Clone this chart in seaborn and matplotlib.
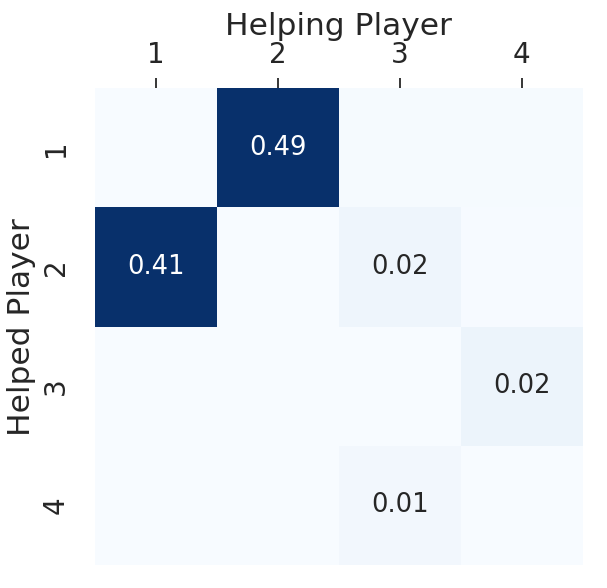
import numpy as np
import pandas as pd
import seaborn as sns
import matplotlib.pyplot as plt

# Helping matrix: rows = helped player, cols = helping player
players = ['1', '2', '3', '4']
row1 = [0.000, 0.49, 0.004, 0.004]
row2 = [0.41, 0.000, 0.020, 0.003]
row3 = [0.000, 0.000, 0.000, 0.024]
row4 = [0.000, 0.000, 0.012, 0.000]

sns.set_theme(style='white')

df = pd.DataFrame([row1, row2, row3, row4], index=players, columns=players)

# Hide annotations that would round to 0.00
labels = df.map(lambda v: f'{v:.2f}' if v >= 0.005 else '')

fig, ax = plt.subplots(figsize=(6.07, 5.88), dpi=100)
sns.heatmap(df, annot=labels, fmt='', cmap='Blues', vmin=0, vmax=0.41,
            cbar=False, annot_kws={'fontsize': 18.5}, ax=ax)

ax.xaxis.tick_top()
ax.xaxis.set_label_position('top')
ax.set_xlabel('Helping Player', fontsize=22.5, labelpad=4)
ax.set_ylabel('Helped Player', fontsize=22.5, labelpad=4)
ax.tick_params(axis='x', labelsize=20, length=7, width=1.3, pad=7,
               color='#262626', top=True, bottom=False)
ax.tick_params(axis='y', labelsize=20, length=0, pad=18)
plt.setp(ax.get_yticklabels(), rotation=90, va='center')

plt.subplots_adjust(left=0.156, right=0.960, top=0.850, bottom=0.039)
fig.savefig('out.png')
